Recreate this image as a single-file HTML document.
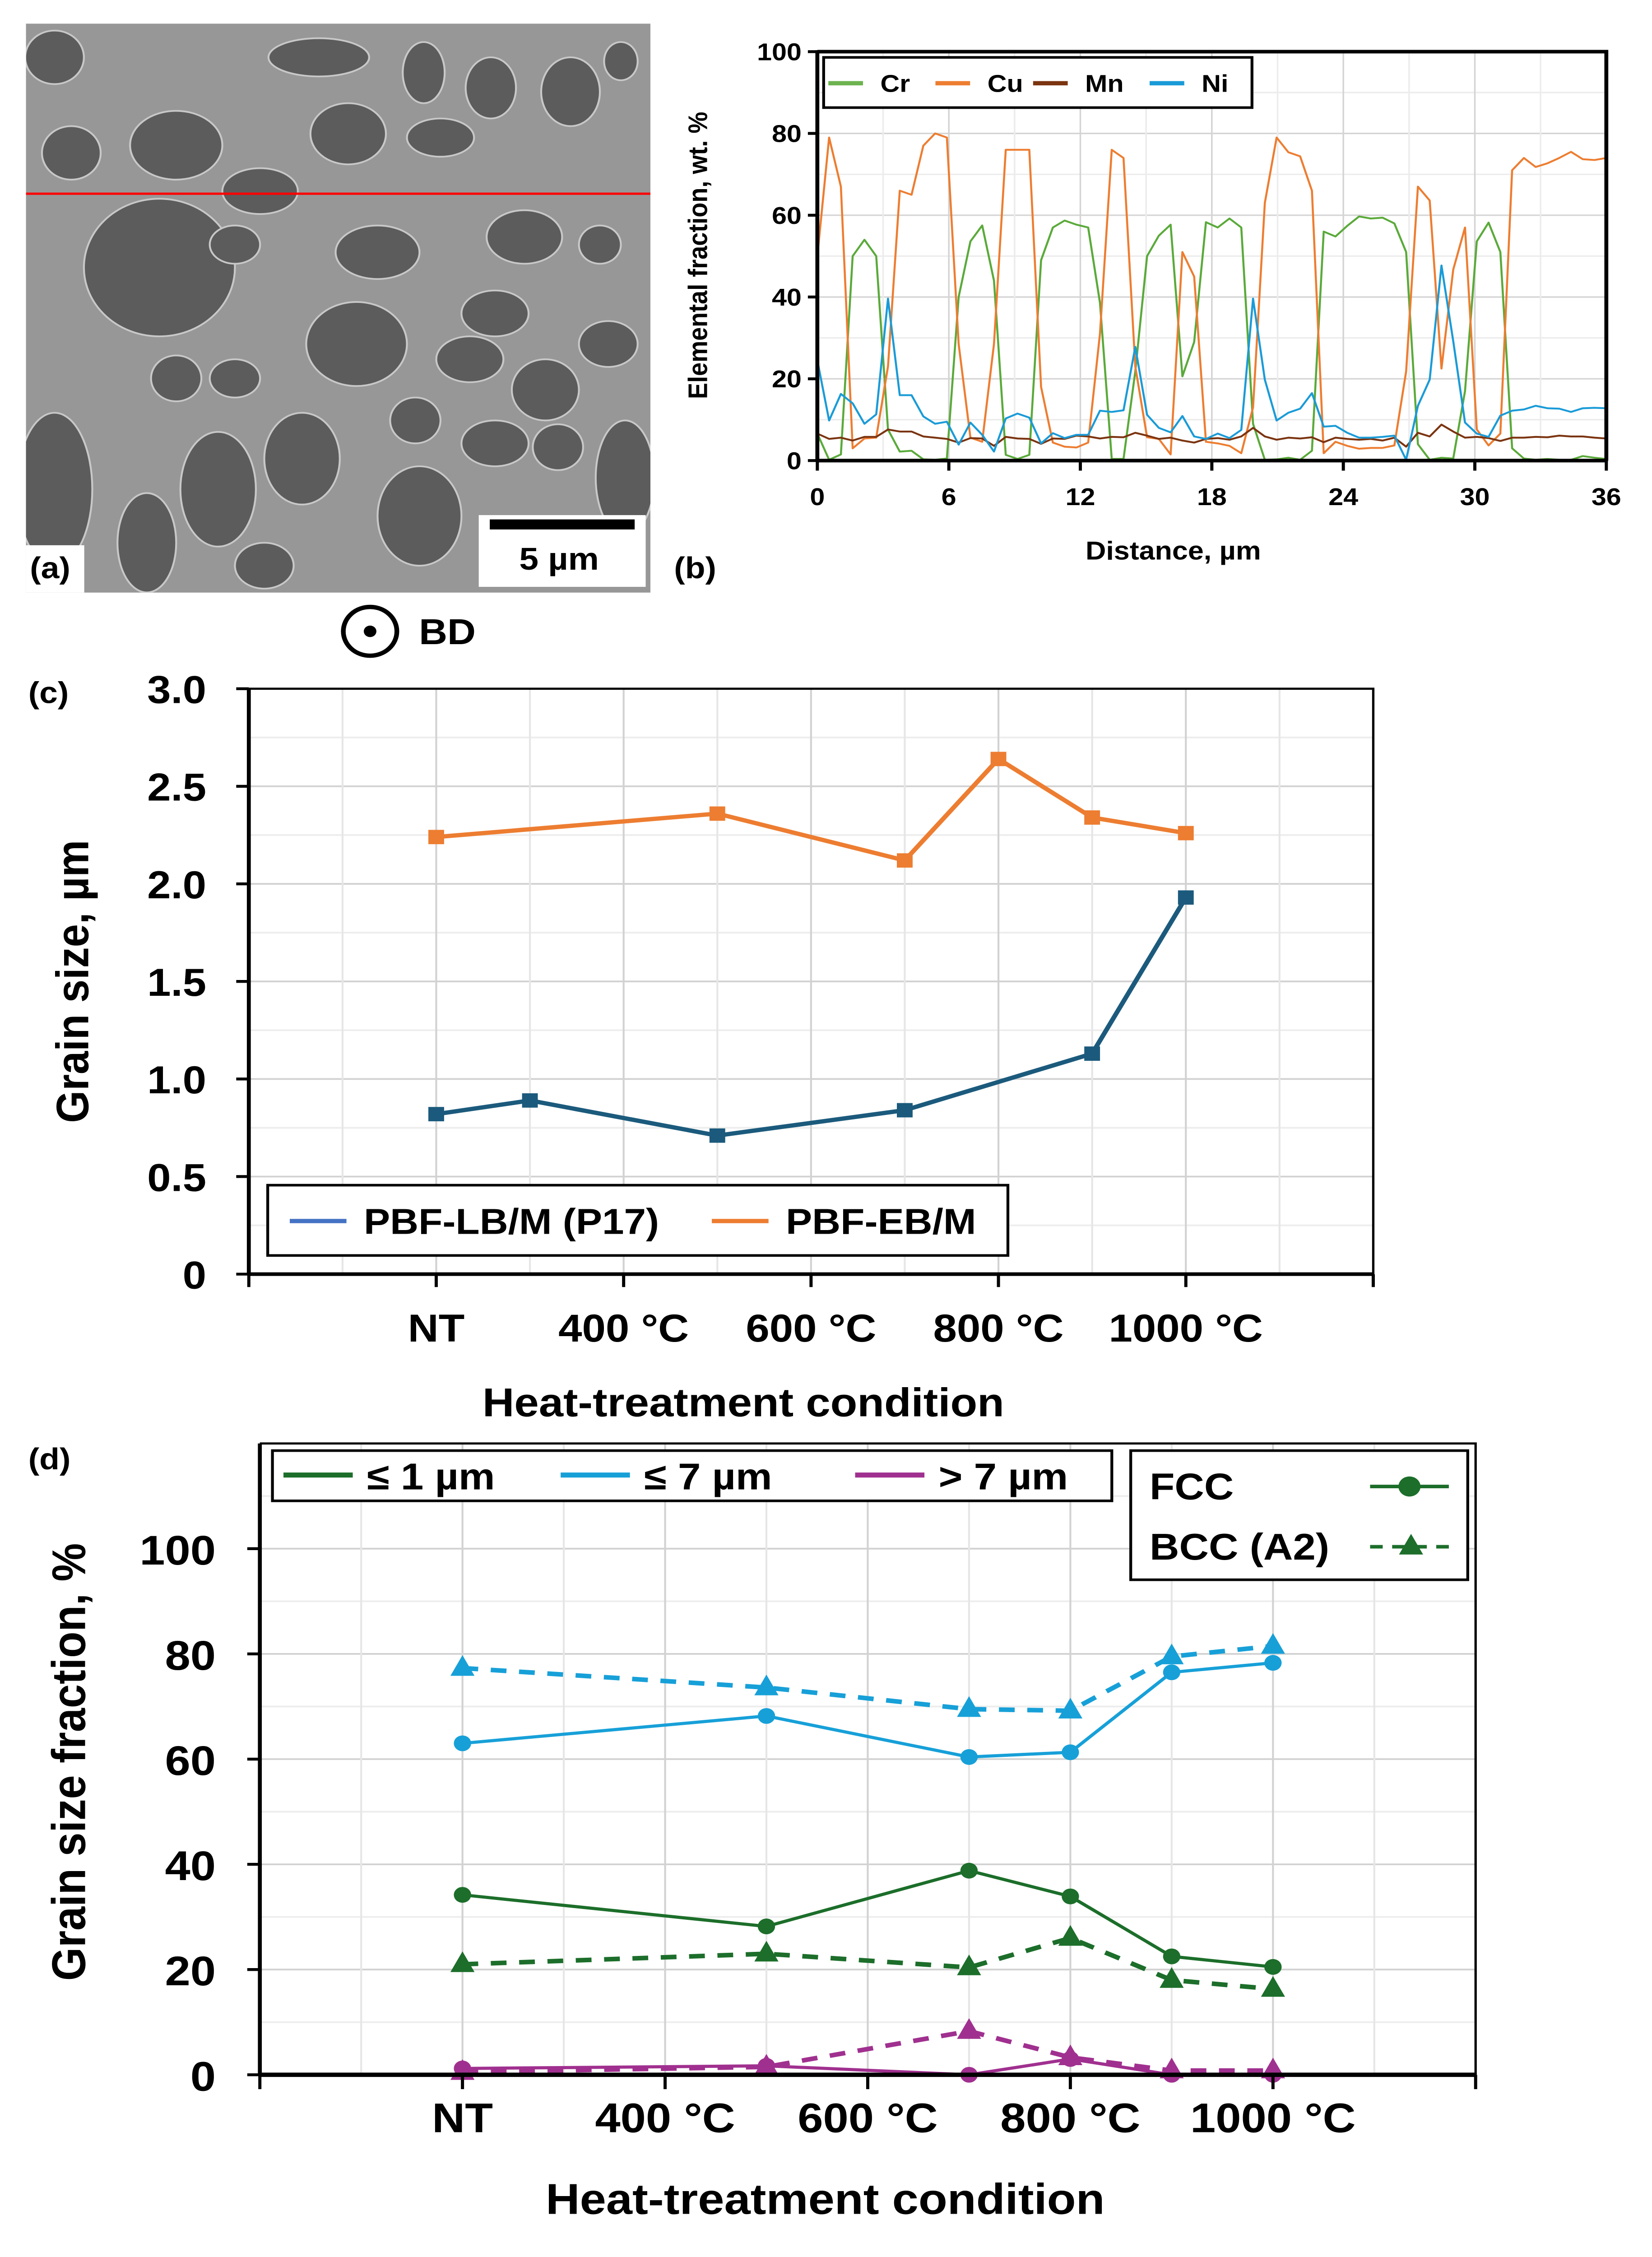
<!DOCTYPE html>
<html><head><meta charset="utf-8">
<style>
html,body{margin:0;padding:0;background:#fff;width:100%;height:100%;overflow:hidden;}
svg{display:block;position:absolute;left:0;top:0;width:100vw;height:100vh;}
text{font-family:"Liberation Sans",Arial,sans-serif;font-weight:bold;fill:#000;}
</style></head>
<body>
<svg id="fig" viewBox="0 0 1049 1573" preserveAspectRatio="none" xmlns="http://www.w3.org/2000/svg">
<defs><clipPath id="semclip"><rect x="16.5" y="16.5" width="396.5" height="396.5"/></clipPath></defs>
<rect x="0" y="0" width="1049" height="1573" fill="#fff"/>
<g id="pa"></g>
<g id="pb"></g>
<g id="pc"></g>
<g id="pd"></g>
</svg>
<script>
// ---- Panel b data ----
const bDistMax = 36;
const bCr = [6.6,0.2,1.5,50,54,50,7.6,2.2,2.4,0.3,0.2,0.5,40,53.6,57.5,44,1.4,0.4,1.4,49,57,58.7,57.7,57,38.6,0.4,0.4,21.8,50,55,57.7,20.6,29,58.3,57,59.2,57,9,0.2,0.3,0.7,0.2,2.4,56,54.8,57.4,59.7,59.2,59.4,58,51,4,0.2,0.7,0.5,17,53.6,58.2,51,3,0.5,0.2,0.4,0.2,0.2,1.1,0.7,0.4];
const bCu = [50,79,67,3,5.4,5.6,23,66,65,77,80,79,28.5,5.6,4.6,28.5,76,76,76,18,4.4,3.4,3.2,4.4,31,76,74,23,5.7,5.3,1.5,51,45,4.6,4.2,3.6,1.8,13,63,79,75.4,74.4,66,1.8,4.6,3.6,2.9,3.1,3.1,3.7,21.8,67,63.6,22.5,46.7,57,7.6,3.7,6.6,71,74,71.8,72.7,74,75.5,73.7,73.5,74];
const bMn = [6.6,5.3,5.6,4.9,5.8,5.8,7.6,7.1,7.1,5.9,5.6,5.3,4.4,5.5,5.4,3.6,5.8,5.4,5.3,4.1,5.4,5.3,6.1,5.9,5.4,5.8,5.7,6.8,6.1,5.3,5.6,4.9,4.4,5.3,5.5,5.1,5.9,8,5.9,5.1,5.6,5.4,5.7,4.5,5.6,5.3,5.1,5.3,4.9,5.6,3.4,6.8,5.9,8.8,7.1,5.6,5.8,5.5,4.8,5.6,5.6,5.8,5.7,6.1,5.9,5.9,5.6,5.4];
const bNi = [24.5,9.8,16.3,14,9,11.3,39.6,16,16,10.8,9,9.5,3.9,9.3,6.3,2.2,10.3,11.5,10.5,4.2,6.7,5.5,6.3,6.3,12.2,11.9,12.3,27.8,11.2,8,6.9,10.9,5.9,5.3,6.6,5.5,7.5,39.6,19.8,9.8,11.7,12.7,16.5,8.3,8.5,6.8,5.6,5.6,5.8,6.1,0.2,13.4,19.8,47.7,29.2,9.3,6.6,5.8,11,12.2,12.5,13.4,12.8,12.7,11.9,12.8,12.9,12.8];
const bXTicks = [0,6,12,18,24,30,36];
const bYTicks = [0,20,40,60,80,100];

// ---- Panel c data ----
const cLBTemps = [200,300,500,700,900,1000];
const cLBSize = [0.82,0.89,0.71,0.84,1.13,1.93];
const cEBTemps = [200,500,700,800,900,1000];
const cEBSize = [2.24,2.36,2.12,2.64,2.34,2.26];
const cXTickTemps = [200,400,600,800,1000];
const cXTickLabels = ["NT","400 °C","600 °C","800 °C","1000 °C"];
const cYTicks = [0,0.5,1.0,1.5,2.0,2.5,3.0];
const cYTickLabels = ["0","0.5","1.0","1.5","2.0","2.5","3.0"];

// ---- Panel d data ----
const dTemps = [200,500,700,800,900,1000];
const dFcc1 = [34.2,28.2,38.8,33.9,22.5,20.5];
const dBcc1 = [21,23,20.4,26,18,16.3];
const dFcc7 = [63,68.2,60.4,61.3,76.5,78.3];
const dBcc7 = [77.3,73.6,69.5,69.2,79.5,81.5];
const dFccG7 = [1.2,1.7,0,3,0,0];
const dBccG7 = [0.5,1.5,8.3,3.3,0.8,0.8];
const dXTickTemps = [200,400,600,800,1000];
const dXTickLabels = ["NT","400 °C","600 °C","800 °C","1000 °C"];
const dYTicks = [0,20,40,60,80,100];

const NS="http://www.w3.org/2000/svg";
function mk(parent,tag,attrs,txt){const e=document.createElementNS(NS,tag);for(const k in attrs)e.setAttribute(k,attrs[k]);if(txt!==undefined)e.textContent=txt;parent.appendChild(e);return e;}

// ===== Panel a =====
(function(){
  const g=document.getElementById('pa');
  const r=mk(g,'rect',{x:16.5,y:16.5,width:396.5,height:396.5,fill:'#979797'});
  
  
  const blobs=[[170,400,70,70],[420,380,110,90],[620,500,90,60],[760,150,120,50],[830,350,90,80],[1010,190,50,80],[1050,360,80,50],[1170,230,60,80],[1360,240,70,90],[1480,160,40,50],[130,150,70,70],[380,700,180,180],[560,640,60,50],[900,660,100,70],[1250,620,90,70],[1430,640,50,50],[850,900,120,110],[1180,820,80,60],[1120,940,80,60],[1300,1020,80,80],[1450,900,70,60],[130,1280,90,200],[350,1420,70,130],[520,1280,90,150],[720,1200,90,120],[1000,1350,100,130],[1180,1160,80,60],[1330,1170,60,60],[1490,1250,70,150],[630,1480,70,60],[990,1100,60,60],[420,990,60,60],[560,990,60,50]];
  const bg=mk(g,'g',{'clip-path':'url(#semclip)'});
  
  
  blobs.forEach(b=>{
    const e=mk(bg,'ellipse',{cx:b[0]/3.754,cy:b[1]/3.754,rx:b[2]/3.754,ry:b[3]/3.754,fill:'#5c5c5c',stroke:'#c8c8c8','stroke-width':1.2});
    
    
  });
  const ln=mk(g,'line',{x1:16.5,x2:413,y1:135,y2:135,stroke:'#ff0000','stroke-width':1.6});
  
  
  const sb=mk(g,'rect',{x:304,y:359,width:106,height:50,fill:'#fff'});
  
  
  mk(g,'rect',{x:311,y:362,width:92,height:7,fill:'#000',});
  mk(g,'text',{x:355,y:397,'font-size':22,'text-anchor':'middle',},'5 µm');
  mk(g,'rect',{x:16.5,y:380,width:37,height:33,fill:'#fff',});
  mk(g,'text',{x:19,y:403,'font-size':21,},'(a)');
  mk(g,'circle',{cx:235,cy:440,r:17,fill:'none',stroke:'#000','stroke-width':3,});
  mk(g,'circle',{cx:235,cy:440,r:4,fill:'#000',});
  mk(g,'text',{x:266,y:449,'font-size':25,},'BD');
})();

// ===== Panel b =====
(function(){
  const g=document.getElementById('pb');
  const L=519,R=1020,T=36,B=321;
  const xs=v=>L+(v/bDistMax)*(R-L);
  const ys=v=>B-(v/100)*(B-T);
  for(let v=0;v<=100;v+=10){const l=mk(g,'line',{x1:L,x2:R,y1:ys(v),y2:ys(v),stroke:v%20===0?'#d4d4d4':'#ececec','stroke-width':1});}
  for(let v=0;v<=36;v+=3){const l=mk(g,'line',{x1:xs(v),x2:xs(v),y1:T,y2:B,stroke:v%6===0?'#d4d4d4':'#ececec','stroke-width':1});}
  const series=[[bCr,'#5aaa3a','cr'],[bCu,'#ed7d31','cu'],[bMn,'#7b3410','mn'],[bNi,'#1a9bd7','ni']];
  series.forEach(s=>{
    const n=s[0].length;
    const pts=s[0].map((v,i)=>xs(i*bDistMax/(n-1))+','+ys(v)).join(' ');
    const p=mk(g,'polyline',{points:pts,fill:'none',stroke:s[1],'stroke-width':1.3,'stroke-linejoin':'round'});
    
    
  });
  mk(g,'polyline',{points:`${L},${T} ${R},${T} ${R},${B}`,fill:'none',stroke:'#000','stroke-width':2.5,});
  mk(g,'line',{x1:L,x2:L,y1:T-1,y2:B+1,stroke:'#000','stroke-width':2.5,});
  mk(g,'line',{x1:L-1,x2:R+1,y1:B,y2:B,stroke:'#000','stroke-width':2.5,});
  bYTicks.forEach(v=>{
    mk(g,'line',{x1:L-6,x2:L,y1:ys(v),y2:ys(v),stroke:'#000','stroke-width':2,});
    const t=mk(g,'text',{x:L-10,y:ys(v)+6,'font-size':17,'text-anchor':'end'},String(v));
    
  });
  bXTicks.forEach(v=>{
    mk(g,'line',{x1:xs(v),x2:xs(v),y1:B,y2:B+7,stroke:'#000','stroke-width':2,});
    const t=mk(g,'text',{x:xs(v),y:B+31,'font-size':17,'text-anchor':'middle'},String(v));
    
  });
  mk(g,'text',{x:745,y:390,'font-size':18,'text-anchor':'middle',},'Distance, µm');
  mk(g,'text',{x:0,y:0,'font-size':17,'text-anchor':'middle',transform:'translate(449,178) rotate(-90)',},'Elemental fraction, wt. %');
  mk(g,'text',{x:428,y:403,'font-size':21,},'(b)');
  mk(g,'rect',{x:523,y:40,width:272,height:35,fill:'#fff',stroke:'#000','stroke-width':1.8,});
  const lx=[[526,'Cr','#6cb34f'],[594,'Cu','#ed7d31'],[656,'Mn','#7b3410'],[730,'Ni','#1a9bd7']];
  lx.forEach(e=>{
    mk(g,'line',{x1:e[0],x2:e[0]+22,y1:58,y2:58,stroke:e[2],'stroke-width':3,});
    mk(g,'text',{x:e[0]+33,y:64,'font-size':17,},e[1]);
  });
})();

// ===== Panel c =====
(function(){
  const g=document.getElementById('pc');
  const L=158,R=872,T=480,B=888;
  const xs=t=>L+(t/1200)*(R-L);
  const ys=v=>B-(v/3)*(B-T);
  for(let v=0.25;v<3;v+=0.25){mk(g,'line',{x1:L,x2:R,y1:ys(v),y2:ys(v),stroke:Math.abs(v*2-Math.round(v*2))<1e-6?'#d2d2d2':'#ededed','stroke-width':1.2,});}
  for(let t=100;t<1200;t+=100){mk(g,'line',{x1:xs(t),x2:xs(t),y1:T,y2:B,stroke:t%200===0?'#d2d2d2':'#e6e6e6','stroke-width':1.2,});}
  function series(temps,vals,color,name){
    const p=mk(g,'polyline',{points:temps.map((t,i)=>xs(t)+','+ys(vals[i])).join(' '),fill:'none',stroke:color,'stroke-width':3});
    
    temps.forEach((t,i)=>{const m=mk(g,'rect',{x:xs(t)-5,y:ys(vals[i])-5,width:10,height:10,fill:color});});
  }
  series(cLBTemps,cLBSize,'#1b5a7c','pbf-lb');
  series(cEBTemps,cEBSize,'#ed7d31','pbf-eb');
  mk(g,'polyline',{points:`${L},${T} ${R},${T} ${R},${B}`,fill:'none',stroke:'#000','stroke-width':1.5,});
  mk(g,'line',{x1:L,x2:L,y1:T,y2:B,stroke:'#000','stroke-width':2.5,});
  mk(g,'line',{x1:L,x2:R,y1:B,y2:B,stroke:'#000','stroke-width':2.5,});
  cYTicks.forEach((v,i)=>{
    mk(g,'line',{x1:L-8,x2:L,y1:ys(v),y2:ys(v),stroke:'#000','stroke-width':2,});
    const t=mk(g,'text',{x:L-27,y:ys(v)+10,'font-size':27,'text-anchor':'end'},cYTickLabels[i]);
    
  });
  for(let t=0;t<=1200;t+=200){mk(g,'line',{x1:xs(t),x2:xs(t),y1:B,y2:B+9,stroke:'#000','stroke-width':2,});}
  cXTickTemps.forEach((tt,i)=>{
    const t=mk(g,'text',{x:xs(tt),y:935,'font-size':27,'text-anchor':'middle'},cXTickLabels[i]);
    
  });
  mk(g,'text',{x:472,y:987,'font-size':28,'text-anchor':'middle',},'Heat-treatment condition');
  mk(g,'text',{x:0,y:0,'font-size':29,'text-anchor':'middle',transform:'translate(56,684) rotate(-90)',},'Grain size, µm');
  mk(g,'text',{x:18,y:490,'font-size':21,},'(c)');
  mk(g,'rect',{x:170,y:826,width:470,height:49,fill:'#fff',stroke:'#000','stroke-width':1.8,});
  mk(g,'line',{x1:184,x2:220,y1:851,y2:851,stroke:'#4472c4','stroke-width':3,});
  mk(g,'text',{x:231,y:860,'font-size':25,},'PBF-LB/M (P17)');
  mk(g,'line',{x1:452,x2:488,y1:851,y2:851,stroke:'#ed7d31','stroke-width':3,});
  mk(g,'text',{x:499,y:860,'font-size':25,},'PBF-EB/M');
})();

// ===== Panel d =====
(function(){
  const g=document.getElementById('pd');
  const L=165,R=937,T=1006,B=1446;
  const xs=t=>L+(t/1200)*(R-L);
  const ys=v=>B-(v/120)*(B-T);
  for(let v=10;v<120;v+=10){mk(g,'line',{x1:L,x2:R,y1:ys(v),y2:ys(v),stroke:v%20===0?'#d2d2d2':'#ededed','stroke-width':1.2,});}
  for(let t=100;t<1200;t+=100){mk(g,'line',{x1:xs(t),x2:xs(t),y1:T,y2:B,stroke:t%200===0?'#d2d2d2':'#e6e6e6','stroke-width':1.2,});}
  function tri(x,y,s){return `${x},${y-s} ${x-s*0.85},${y+s*0.6} ${x+s*0.85},${y+s*0.6}`;}
  function series(vals,color,dashed,name){
    const a={points:dTemps.map((t,i)=>xs(t)+','+ys(vals[i])).join(' '),fill:'none',stroke:color,'stroke-width':dashed?3.2:2.2};
    if(dashed)a['stroke-dasharray']='10,8';
    const p=mk(g,'polyline',a);
    
    dTemps.forEach((t,i)=>{
      let m;
      if(dashed) m=mk(g,'polygon',{points:tri(xs(t),ys(vals[i]),9),fill:color});
      else m=mk(g,'circle',{cx:xs(t),cy:ys(vals[i]),r:5.5,fill:color});
      
    });
  }
  series(dFccG7,'#a0308f',false,'fcc-gt7');
  series(dBccG7,'#a0308f',true,'bcc-gt7');
  series(dFcc1,'#1c6e2a',false,'fcc-le1');
  series(dBcc1,'#1c6e2a',true,'bcc-le1');
  series(dFcc7,'#17a0d8',false,'fcc-le7');
  series(dBcc7,'#17a0d8',true,'bcc-le7');
  mk(g,'polyline',{points:`${L},${T} ${R},${T} ${R},${B}`,fill:'none',stroke:'#000','stroke-width':1.5,});
  mk(g,'line',{x1:L,x2:L,y1:T,y2:B,stroke:'#000','stroke-width':2.5,});
  mk(g,'line',{x1:L,x2:R,y1:B,y2:B,stroke:'#000','stroke-width':3,});
  dYTicks.forEach(v=>{
    mk(g,'line',{x1:L-8,x2:L,y1:ys(v),y2:ys(v),stroke:'#000','stroke-width':2,});
    const t=mk(g,'text',{x:L-28,y:ys(v)+11,'font-size':29,'text-anchor':'end'},String(v));
    
  });
  for(let t=0;t<=1200;t+=200){mk(g,'line',{x1:xs(t),x2:xs(t),y1:B,y2:B+10,stroke:'#000','stroke-width':2,});}
  dXTickTemps.forEach((tt,i)=>{
    const t=mk(g,'text',{x:xs(tt),y:1486,'font-size':29,'text-anchor':'middle'},dXTickLabels[i]);
    
  });
  mk(g,'text',{x:524,y:1543,'font-size':30,'text-anchor':'middle',},'Heat-treatment condition');
  mk(g,'text',{x:0,y:0,'font-size':30,'text-anchor':'middle',transform:'translate(54,1228) rotate(-90)',},'Grain size fraction, %');
  mk(g,'text',{x:18,y:1024,'font-size':21,},'(d)');
  mk(g,'rect',{x:173,y:1011,width:533,height:35,fill:'#fff',stroke:'#000','stroke-width':1.8,});
  const le=[[180,'≤ 1 µm','#1c6e2a'],[356,'≤ 7 µm','#17a0d8'],[543,'> 7 µm','#a0308f']];
  le.forEach(e=>{
    mk(g,'line',{x1:e[0],x2:e[0]+44,y1:1028,y2:1028,stroke:e[2],'stroke-width':3.5,});
    mk(g,'text',{x:e[0]+53,y:1038,'font-size':26,},e[1]);
  });
  mk(g,'rect',{x:718,y:1011,width:214,height:90,fill:'#fff',stroke:'#000','stroke-width':1.8,});
  mk(g,'text',{x:730,y:1045,'font-size':26,},'FCC');
  mk(g,'line',{x1:870,x2:920,y1:1036,y2:1036,stroke:'#1c6e2a','stroke-width':2.5,});
  mk(g,'circle',{cx:895,cy:1036,r:7,fill:'#1c6e2a',});
  mk(g,'text',{x:730,y:1087,'font-size':26,},'BCC (A2)');
  mk(g,'line',{x1:870,x2:922,y1:1078,y2:1078,stroke:'#1c6e2a','stroke-width':2.5,'stroke-dasharray':'8,6',});
  mk(g,'polygon',{points:tri(896,1078,9),fill:'#1c6e2a',});
})();
</script>
</body></html>
